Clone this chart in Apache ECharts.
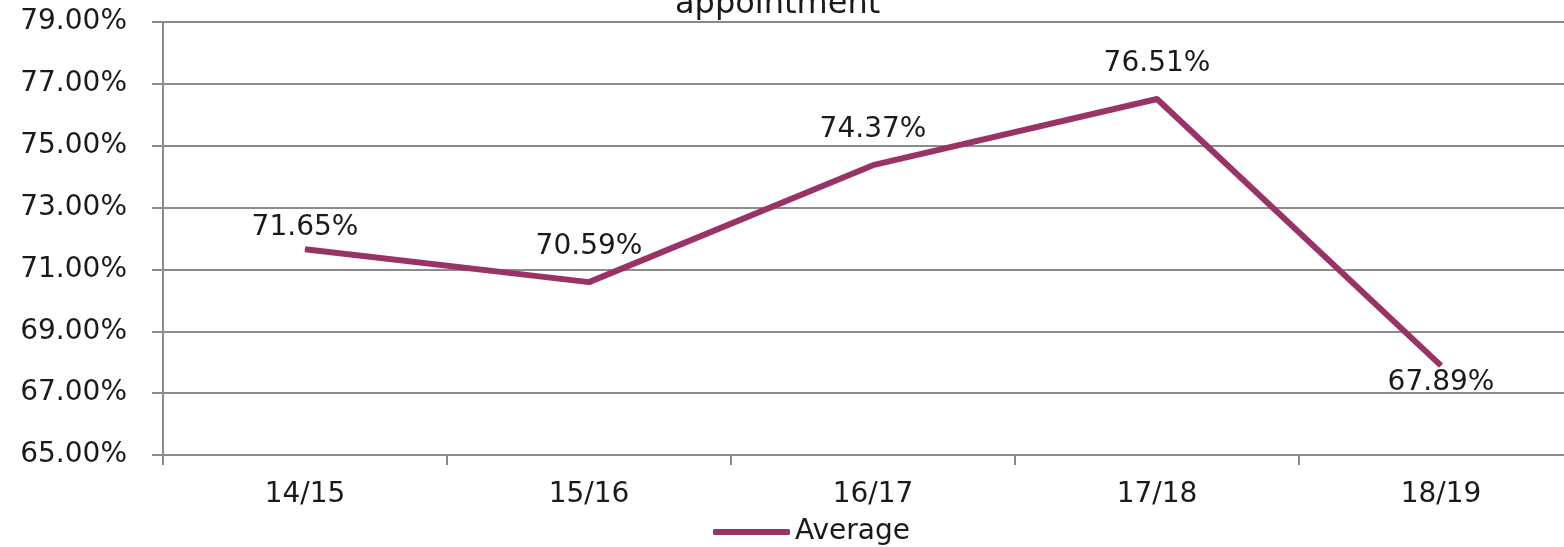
<!DOCTYPE html>
<html>
<head>
<meta charset="utf-8">
<script src="https://cdn.jsdelivr.net/npm/echarts@6/dist/echarts.min.js"></script>
<style>
  html, body { margin: 0; padding: 0; background: #fff; overflow: hidden; }
  #chart { width: 1583px; height: 547px; }
</style>
</head>
<body>
<div id="chart"></div>
<script>
// 学年
const seasons = ['14/15', '15/16', '16/17', '17/18', '18/19'];
// 平均值 (%)
const averageValues = [71.65, 70.59, 74.37, 76.51, 67.89];
// y 轴刻度
const yTicks = [65, 67, 69, 71, 73, 75, 77, 79];

const fontFamily = '"DejaVu Sans", sans-serif';
const gray = '#8c8c8c';
const plum = '#993366';

const chart = echarts.init(document.getElementById('chart'));

// 数据标签：最后一个点放下面
const seriesData = averageValues.map((v, i) => {
  const last = i === averageValues.length - 1;
  return {
    value: v,
    label: {
      position: last ? 'bottom' : 'top',
      distance: last ? 3 : (i === 0 ? 7 : 21)
    }
  };
});

const option = {
  backgroundColor: '#fff',
  animation: false,
  title: {
    text: 'appointment',
    left: 670,
    top: -16,
    textStyle: { fontFamily, fontSize: 32, fontWeight: 'normal', color: '#1a1a1a' }
  },
  grid: { left: 163, right: 0, top: 22, bottom: 92 },
  legend: {
    data: ['Average'],
    left: 708,
    top: 513,
    itemWidth: 77,
    itemHeight: 6,
    itemGap: 5,
    icon: 'roundRect',
    textStyle: { fontFamily, fontSize: 28, color: '#1a1a1a' }
  },
  xAxis: {
    type: 'category',
    data: seasons,
    boundaryGap: true,
    axisLine: { lineStyle: { color: gray, width: 2 } },
    axisTick: { show: true, length: 10, lineStyle: { color: gray, width: 2 } },
    axisLabel: { fontFamily, fontSize: 28, color: '#1a1a1a', margin: 26 }
  },
  yAxis: {
    type: 'value',
    min: 65,
    max: 79,
    axisLine: { show: true, lineStyle: { color: gray, width: 2 } },
    axisTick: { show: true, length: 11, customValues: yTicks, lineStyle: { color: gray, width: 2 } },
    splitLine: { show: true, customValues: yTicks, lineStyle: { color: gray, width: 2 } },
    axisLabel: {
      fontFamily, fontSize: 28, color: '#1a1a1a', margin: 36,
      customValues: yTicks,
      formatter: v => v.toFixed(2) + '%'
    }
  },
  series: [{
    name: 'Average',
    type: 'line',
    data: seriesData,
    symbol: 'circle',
    symbolSize: 1,
    showSymbol: true,
    lineStyle: { color: plum, width: 6 },
    itemStyle: { color: plum },
    label: {
      show: true,
      fontFamily, fontSize: 28, color: '#1a1a1a',
      formatter: p => p.value.toFixed(2) + '%'
    }
  }]
};

chart.setOption(option);
</script>
</body>
</html>
